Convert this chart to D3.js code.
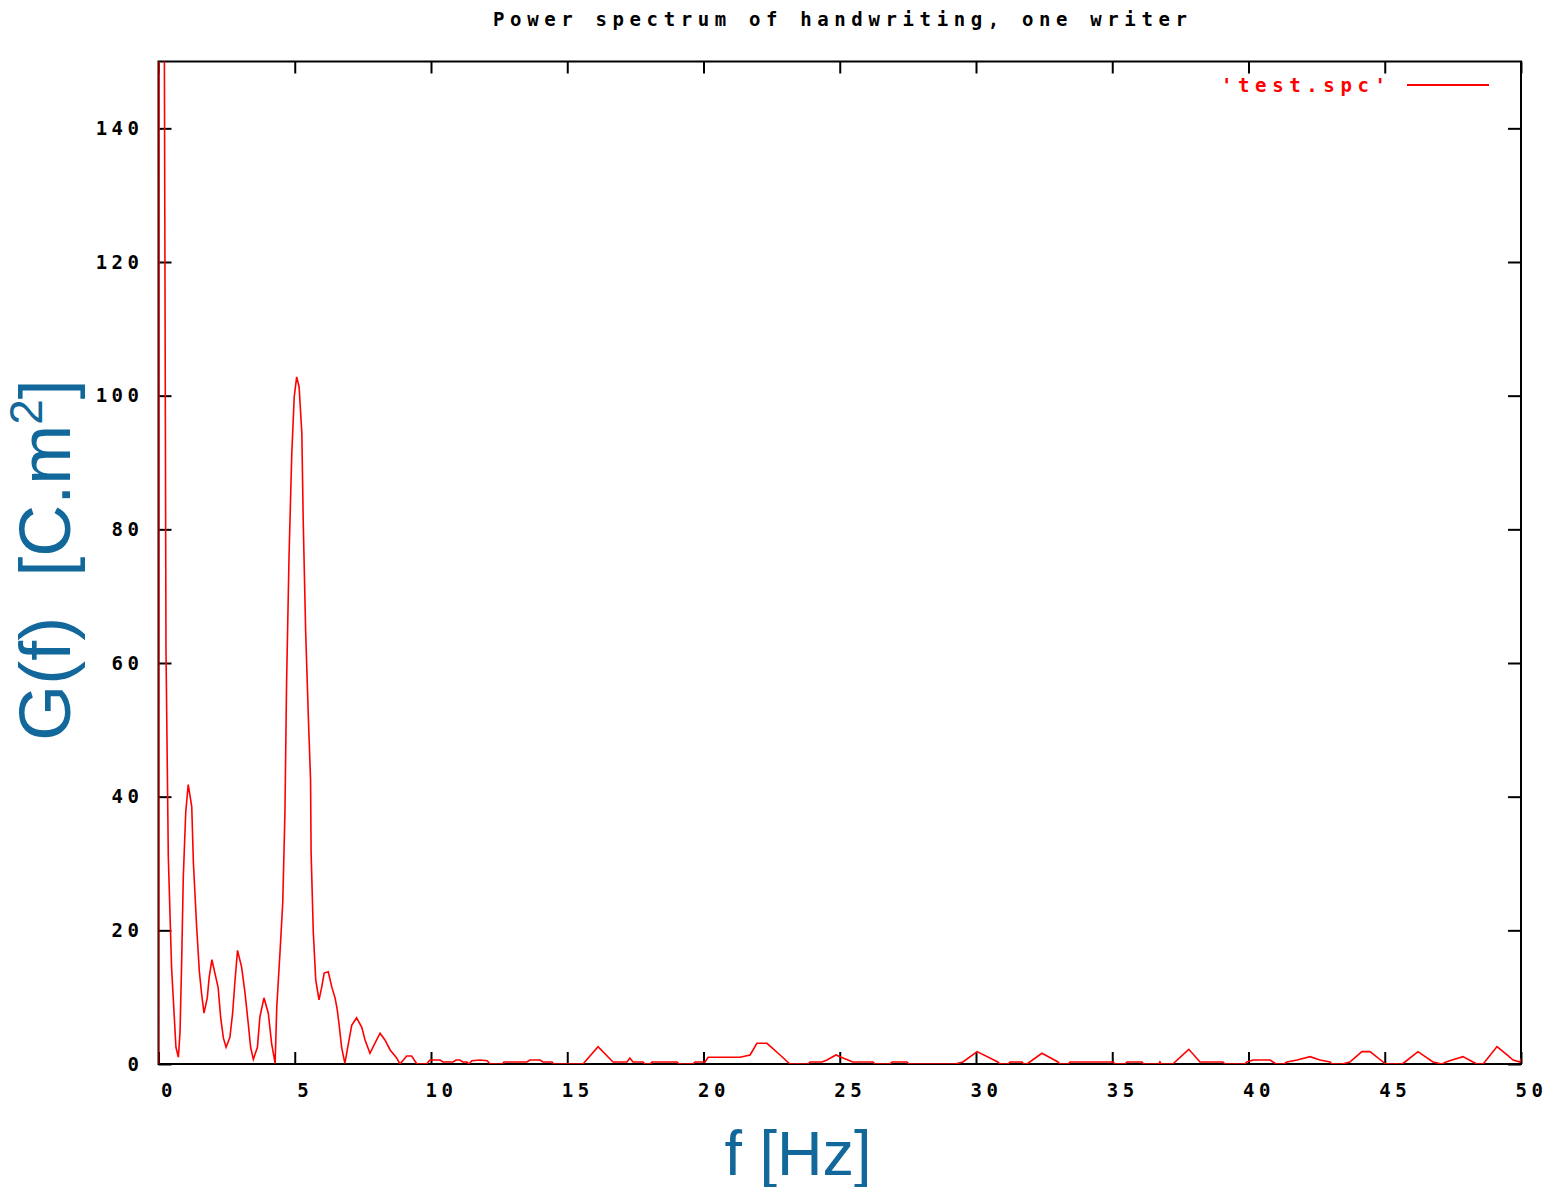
<!DOCTYPE html>
<html>
<head>
<meta charset="utf-8">
<script src="https://cdn.jsdelivr.net/npm/d3@7"></script>
<style>
  html, body { margin: 0; padding: 0; background: #fff; }
  svg { display: block; }
</style>
</head>
<body>
<svg id="chart" width="1556" height="1187"></svg>
<script>
// ---- data ----
const titleText = "Power spectrum of handwriting, one writer";
const seriesName = "'test.spc'";
const xTicks = [0, 5, 10, 15, 20, 25, 30, 35, 40, 45, 50];
const yTicks = [0, 20, 40, 60, 80, 100, 120, 140];

// frequency [Hz]
const freq = [
  0, 0.05, 0.275, 0.36, 0.48, 0.58, 0.64, 0.73, 0.79, 0.85, 0.91, 1.0, 1.09, 1.22, 1.28, 1.40, 1.50, 1.59, 1.67,
  1.79, 1.86, 1.96, 2.19, 2.28, 2.38, 2.48, 2.62, 2.72, 2.81, 2.90, 3.05, 3.17, 3.30, 3.38, 3.48, 3.63, 3.72,
  3.87, 4.03, 4.15, 4.28, 4.34, 4.46, 4.56, 4.64, 4.70, 4.79, 4.89, 4.98, 5.07, 5.16, 5.26, 5.31, 5.40, 5.50,
  5.58, 5.60, 5.68, 5.77, 5.89, 5.99, 6.08, 6.23, 6.36, 6.48, 6.56, 6.63, 6.72, 6.84, 6.97, 7.09, 7.27, 7.46,
  7.58, 7.76, 7.94, 8.13, 8.31, 8.50, 8.74, 8.86, 9.11, 9.29, 9.48,
  9.84, 9.96, 10.33, 10.44, 10.81, 10.92, 11.06, 11.17, 11.32, 11.39, 11.50, 11.80, 12.06, 12.17, 12.61, 12.68,
  13.52, 13.63, 14.00, 14.11, 14.44, 14.51, 15.58, 16.13, 16.68, 17.19, 17.30, 17.41, 17.78, 17.85, 18.04, 18.11,
  19.03, 19.10, 19.61, 19.69, 20.06, 20.17, 21.34, 21.71, 21.96, 22.33, 22.81, 23.17, 23.83, 23.91, 24.35, 24.53,
  24.86, 25.12, 25.48, 26.22, 26.29, 26.84, 26.92, 27.47, 27.54, 29.23, 29.52, 30.04, 30.80, 30.88, 31.17, 31.25,
  31.69, 31.76, 31.87, 32.42, 33.01, 33.08, 33.38, 33.45, 35.03, 35.10, 35.47, 35.54, 36.09, 36.16, 36.71, 36.75,
  36.79, 37.22, 37.81, 38.22, 39.06, 39.14, 39.87, 39.94, 40.17, 40.79, 40.90, 41.01, 41.30, 41.41, 41.78, 42.26,
  42.62, 42.99, 43.06, 43.43, 43.72, 44.16, 44.46, 44.94, 45.01, 45.63, 45.74, 46.22, 46.77, 47.10, 47.25, 47.47,
  47.87, 48.24, 48.39, 48.61, 49.12, 49.49, 49.71, 49.96, 50
];
// G(f) [C.m^2]
const power = [
  0, 400, 62, 31, 14.4, 7, 2.5, 1, 4.8, 15.3, 28, 37.7, 41.8, 38.5, 30.2, 20.5, 13.8, 10.2, 7.6,
  9.9, 13, 15.6, 11.4, 7, 3.9, 2.5, 4, 7.6, 12.6, 17, 14.5, 10.8, 5.8, 2.5, 0.7, 2.5, 7,
  9.9, 7.6, 3.1, 0.1, 8.5, 16.8, 24.2, 37.6, 57, 75.9, 91.2, 99.8, 102.8, 101.3, 94.4, 81.4, 64.7, 51.8,
  42.5, 31.7, 19.8, 12.6, 9.6, 11.5, 13.6, 13.8, 11.5, 9.9, 8.1, 5.8, 2.5, 0.1, 3.1, 5.8, 6.9, 5.5,
  3.6, 1.6, 3.1, 4.6, 3.6, 2.1, 0.9, 0, 1.2, 1.2, 0,
  0, 0.6, 0.6, 0.3, 0.3, 0.6, 0.6, 0.3, 0.3, 0, 0.5, 0.6, 0.5, 0, 0, 0.3,
  0.3, 0.6, 0.6, 0.3, 0.3, 0, 0, 2.6, 0.3, 0.3, 0.9, 0.3, 0.3, 0, 0, 0.3,
  0.3, 0, 0, 0.3, 0.3, 1.0, 1.0, 1.35, 3.1, 3.1, 1.35, 0, 0, 0.3, 0.3, 0.6,
  1.35, 0.9, 0.3, 0.3, 0, 0, 0.3, 0.3, 0, 0, 0.3, 1.85, 0.3, 0, 0, 0.3,
  0.3, 0, 0, 1.6, 0.3, 0, 0, 0.3, 0.3, 0, 0, 0.3, 0.3, 0, 0, 0.3,
  0, 0, 2.2, 0.3, 0.3, 0, 0, 0.3, 0.6, 0.6, 0.3, 0, 0, 0.3, 0.6, 1.1,
  0.6, 0.3, 0, 0, 0.3, 1.85, 1.85, 0.3, 0, 0, 0.3, 1.85, 0.3, 0, 0.3, 0.6,
  1.1, 0.3, 0, 0, 2.6, 1.35, 0.6, 0.3, 0.8
];

// ---- drawing ----
const svg = d3.select("#chart");
const pLeft = 158.5, pRight = 1521, pTop = 61.5, pBottom = 1064;
const x = d3.scaleLinear().domain([0, 50]).range([pLeft, pRight]);
const y = d3.scaleLinear().domain([0, 150]).range([pBottom, pTop]);

const monoFont = "'DejaVu Sans Mono', 'Liberation Mono', monospace";
const labelBlue = "#12679b";

// title
svg.append("text")
  .attr("x", 840).attr("y", 26)
  .attr("text-anchor", "middle")
  .attr("font-family", monoFont).attr("font-size", 19).attr("font-weight", "bold")
  .attr("textLength", 694).attr("lengthAdjust", "spacing")
  .attr("fill", "#000")
  .text(titleText);

// clip
svg.append("defs").append("clipPath").attr("id", "plotclip")
  .append("rect").attr("x", pLeft).attr("y", pTop)
  .attr("width", pRight - pLeft).attr("height", pBottom - pTop);

function styleAxis(g) {
  g.select(".domain").remove();
  g.selectAll(".tick line").attr("stroke", "#000").attr("stroke-width", 2);
  g.selectAll(".tick text")
    .attr("font-family", monoFont).attr("font-size", 19).attr("font-weight", "bold")
    .attr("letter-spacing", 4.5).attr("fill", "#000");
}

// bottom axis with labels
svg.append("g").attr("transform", `translate(0,${pBottom})`)
  .call(d3.axisBottom(x).tickValues(xTicks).tickSize(-12).tickPadding(20).tickFormat(d3.format("d")))
  .call(styleAxis)
  .call(g => g.selectAll(".tick text").attr("dx", 10));
// top mirror ticks
svg.append("g").attr("transform", `translate(0,${pTop})`)
  .call(d3.axisTop(x).tickValues(xTicks).tickSize(-12).tickFormat(""))
  .call(styleAxis);
// left axis with labels
svg.append("g").attr("transform", `translate(${pLeft},0)`)
  .call(d3.axisLeft(y).tickValues(yTicks).tickSize(-13).tickPadding(15).tickFormat(d3.format("d")))
  .call(styleAxis);
// right mirror ticks
svg.append("g").attr("transform", `translate(${pRight},0)`)
  .call(d3.axisRight(y).tickValues(yTicks).tickSize(-13).tickFormat(""))
  .call(styleAxis);

// frame
svg.append("rect")
  .attr("x", pLeft).attr("y", pTop)
  .attr("width", pRight - pLeft).attr("height", pBottom - pTop)
  .attr("fill", "none").attr("stroke", "#000").attr("stroke-width", 2);

// series line
const pts = freq.map((f, i) => [f, power[i]]);
svg.append("path")
  .datum(pts)
  .attr("clip-path", "url(#plotclip)")
  .attr("fill", "none")
  .attr("stroke", "#ff0000")
  .attr("stroke-width", 1.6)
  .attr("stroke-linejoin", "miter")
  .attr("d", d3.line().x(d => x(d[0])).y(d => y(d[1])));

// legend
svg.append("text")
  .attr("x", 1386).attr("y", 92)
  .attr("text-anchor", "end")
  .attr("font-family", monoFont).attr("font-size", 19).attr("font-weight", "bold")
  .attr("textLength", 165).attr("lengthAdjust", "spacing")
  .attr("fill", "#ff0000")
  .text(seriesName);
svg.append("line")
  .attr("x1", 1407).attr("x2", 1489).attr("y1", 85).attr("y2", 85)
  .attr("stroke", "#ff0000").attr("stroke-width", 2);

// axis titles
const yl = svg.append("text")
  .attr("transform", "translate(70,560) rotate(-90)")
  .attr("text-anchor", "middle")
  .attr("font-family", "'Liberation Sans', Arial, sans-serif")
  .attr("font-size", 72)
  .attr("fill", labelBlue);
yl.append("tspan").text("G(f)\u00A0\u00A0[C.m");
yl.append("tspan").attr("font-size", 46).attr("dy", -28).text("2");
yl.append("tspan").attr("dy", 28).text("]");

svg.append("text")
  .attr("x", 798).attr("y", 1175)
  .attr("text-anchor", "middle")
  .attr("font-family", "'Liberation Sans', Arial, sans-serif")
  .attr("font-size", 63)
  .attr("fill", labelBlue)
  .text("f [Hz]");
</script>
</body>
</html>
